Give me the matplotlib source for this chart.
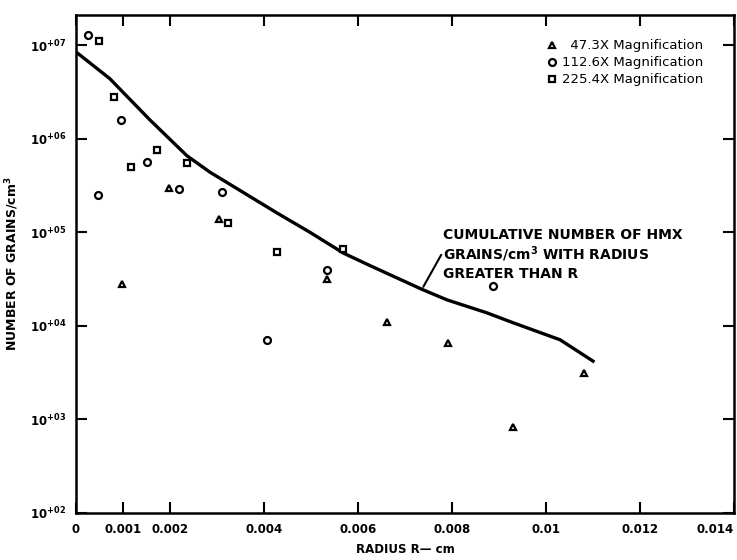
import numpy as np
import matplotlib.pyplot as plt
from matplotlib.ticker import FixedLocator, FixedFormatter, NullLocator

plt.rcParams['font.family'] = ['DejaVu Sans']
plt.rcParams['mathtext.default'] = 'bf'

# 47.3X magnification (triangles)
tri_r = [0.00097, 0.00199, 0.00305, 0.00535, 0.00662, 0.00792, 0.0093, 0.0108]
tri_n = [2.8e4, 3.0e5, 1.4e5, 3.2e4, 1.1e4, 6.5e3, 8.4e2, 3.1e3]

# 112.6X magnification (circles)
circ_r = [0.00026, 0.00047, 0.00095, 0.00152, 0.0022, 0.0031, 0.00406, 0.00535, 0.00887]
circ_n = [1.3e7, 2.5e5, 1.6e6, 5.7e5, 2.9e5, 2.7e5, 7.1e3, 4.0e4, 2.7e4]

# 225.4X magnification (squares)
sq_r = [0.0005, 0.00081, 0.00118, 0.00173, 0.00236, 0.00323, 0.00427, 0.00569]
sq_n = [1.1e7, 2.8e6, 5.0e5, 7.6e5, 5.5e5, 1.25e5, 6.2e4, 6.6e4]

# cumulative curve
curve_r = [0, 0.00072, 0.00157, 0.00236, 0.00285, 0.00356, 0.00427, 0.00498,
           0.00569, 0.00626, 0.00736, 0.00789, 0.00874, 0.0093, 0.0103, 0.011]
curve_n = [8.5e6, 4.4e6, 1.6e6, 6.6e5, 4.4e5, 2.67e5, 1.62e5, 1.0e5,
           6.0e4, 4.4e4, 2.46e4, 1.9e4, 1.38e4, 1.08e4, 7.1e3, 4.2e3]

xticks = [0, 0.001, 0.002, 0.004, 0.006, 0.008, 0.01, 0.012, 0.014]
xticklabels = ['0', '0.001', '0.002', '0.004', '0.006', '0.008', '0.01', '0.012', '0.014']
yticks = [1e2, 1e3, 1e4, 1e5, 1e6, 1e7]
yticklabels = ['10$^{+02}$', '10$^{+03}$', '10$^{+04}$', '10$^{+05}$', '10$^{+06}$', '10$^{+07}$']

fig = plt.figure(figsize=(7.37, 5.6), dpi=100)
ax = fig.add_axes([0.103, 0.084, 0.893, 0.889])

ax.plot(curve_r, curve_n, color='black', lw=2.4)
ax.plot(tri_r, tri_n, linestyle='none', marker='^', ms=4.5, mfc='white', mec='black', mew=1.6,
        label='\u200747.3X Magnification')
ax.plot(circ_r, circ_n, linestyle='none', marker='o', ms=5, mfc='white', mec='black', mew=1.6,
        label='112.6X Magnification')
ax.plot(sq_r, sq_n, linestyle='none', marker='s', ms=5, mfc='white', mec='black', mew=1.6,
        label='225.4X Magnification')

ax.set_yscale('log')
ax.set_xlim(0, 0.014)
ax.set_ylim(1e2, 2.1e7)

ax.xaxis.set_major_locator(FixedLocator(xticks))
ax.xaxis.set_major_formatter(FixedFormatter(xticklabels))
ax.yaxis.set_major_locator(FixedLocator(yticks))
ax.yaxis.set_major_formatter(FixedFormatter(yticklabels))
ax.yaxis.set_minor_locator(NullLocator())

ax.tick_params(direction='in', length=8, width=1.5, top=True, right=True,
               labelsize=8.5, pad=7)
for lab in ax.get_xticklabels() + ax.get_yticklabels():
    lab.set_fontweight('bold')
ax.get_xticklabels()[-1].set_horizontalalignment('right')
for s in ax.spines.values():
    s.set_linewidth(1.8)

ax.set_xlabel('RADIUS R\u2014 cm', fontsize=8.5, fontweight='bold', labelpad=5)
ax.set_ylabel('NUMBER OF GRAINS/cm$^3$', fontsize=9, fontweight='bold', labelpad=6)

ax.text(0.00781, 1.12e5, 'CUMULATIVE NUMBER OF HMX\nGRAINS/cm$^3$ WITH RADIUS\nGREATER THAN R',
        ha='left', va='top', fontsize=10, fontweight='bold', linespacing=1.2)
ax.annotate('', xy=(0.00736, 2.46e4), xytext=(0.0078, 6.1e4),
            arrowprops=dict(arrowstyle='-', lw=1.5, color='black'))

leg = ax.legend(loc='upper right', bbox_to_anchor=(0.972, 0.975), frameon=False,
                fontsize=9.5, handletextpad=0.4, labelspacing=0.3, handlelength=0.8)

fig.savefig('out.png', dpi=100)
